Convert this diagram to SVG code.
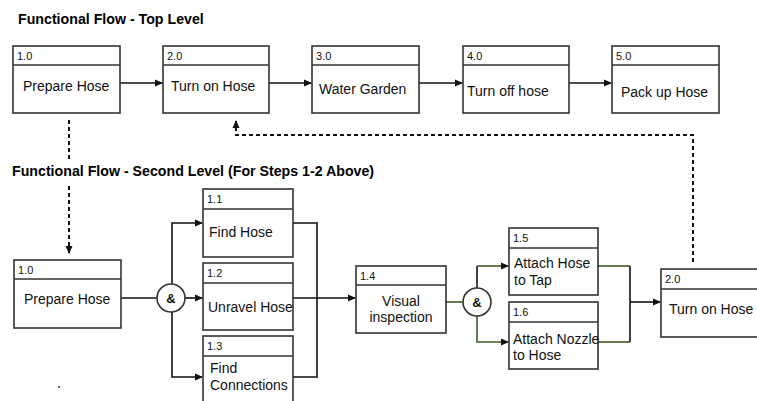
<svg xmlns="http://www.w3.org/2000/svg" width="757" height="401" viewBox="0 0 757 401">
<style>
.box{fill:#fff;stroke:#333;stroke-width:1.6}
.hd{stroke:#333;stroke-width:1.6;fill:none}
.num{font-family:"Liberation Sans",Arial,sans-serif;font-size:11px;fill:#111}
.txt{font-family:"Liberation Sans",Arial,sans-serif;font-size:14px;fill:#111}
.ttl{font-family:"Liberation Sans",Arial,sans-serif;font-size:14.2px;font-weight:bold;fill:#000}
.ln{fill:none;stroke:#111;stroke-width:1.6}
.gn{fill:none;stroke:#3d5c22;stroke-width:1.6}
.ds{fill:none;stroke:#111;stroke-width:2;stroke-dasharray:4 3}
.amp{font-family:"Liberation Sans",Arial,sans-serif;font-size:13px;font-weight:bold;fill:#111}
</style>
<defs>
<marker id="ah" markerWidth="8" markerHeight="8" refX="7" refY="4" orient="auto" markerUnits="userSpaceOnUse">
<path d="M0,0.5 L8,4 L0,7.5 Z" fill="#111"/>
</marker>
</defs>
<rect width="757" height="401" fill="#fff"/>
<text class="ttl" x="18" y="24">Functional Flow - Top Level</text>
<text class="ttl" x="12" y="176">Functional Flow - Second Level (For Steps 1-2 Above)</text>

<g id="connectors">
<path class="ln" d="M120,83 H162" marker-end="url(#ah)"/>
<path class="ln" d="M269,83 H311" marker-end="url(#ah)"/>
<path class="ln" d="M419,83 H462" marker-end="url(#ah)"/>
<path class="ln" d="M569,83 H611" marker-end="url(#ah)"/>
<path class="ds" d="M69,120 V162"/>
<path class="ds" d="M69,186 V253" marker-end="url(#ah)"/>
<path class="ds" d="M693,262 V135 H236 V121" marker-end="url(#ah)"/>
<path class="ln" d="M121,298 H157"/>
<path class="ln" d="M185,298 H202" marker-end="url(#ah)"/>
<path class="ln" d="M172,284 V223 H202" marker-end="url(#ah)"/>
<path class="ln" d="M172,312 V377 H202" marker-end="url(#ah)"/>
<path class="ln" d="M293,223 H317 V377 H293"/>
<path class="ln" d="M293,298 H355" marker-end="url(#ah)"/>
<path class="gn" d="M446,302 H463"/>
<path class="ln" d="M477,288 V266"/>
<path class="gn" d="M477,266 H508" marker-end="url(#ah)"/>
<path class="gn" d="M477,316 V342 H508" marker-end="url(#ah)"/>
<path class="gn" d="M598,266 H630"/>
<path class="gn" d="M598,342 H630"/>
<path class="ln" d="M630,266 V342"/>
<path class="ln" d="M630,302 H660" marker-end="url(#ah)"/>
</g>

<g id="t1"><rect class="box" x="13" y="46" width="107" height="67"/><path class="hd" d="M13,65 H120"/><text class="num" x="17" y="60">1.0</text><text class="txt" x="23" y="91">Prepare Hose</text></g>
<g id="t2"><rect class="box" x="163" y="46" width="106" height="67"/><path class="hd" d="M163,65 H269"/><text class="num" x="167" y="60">2.0</text><text class="txt" x="171" y="91">Turn on Hose</text></g>
<g id="t3"><rect class="box" x="312" y="46" width="107" height="67"/><path class="hd" d="M312,65 H419"/><text class="num" x="316" y="60">3.0</text><text class="txt" x="319" y="94">Water Garden</text></g>
<g id="t4"><rect class="box" x="463" y="46" width="106" height="67"/><path class="hd" d="M463,65 H569"/><text class="num" x="467" y="60">4.0</text><text class="txt" x="467" y="96">Turn off hose</text></g>
<g id="t5"><rect class="box" x="612" y="46" width="107" height="67"/><path class="hd" d="M612,65 H719"/><text class="num" x="616" y="60">5.0</text><text class="txt" x="621" y="97">Pack up Hose</text></g>

<g id="s10"><rect class="box" x="14" y="260" width="107" height="68"/><path class="hd" d="M14,279 H121"/><text class="num" x="18" y="274">1.0</text><text class="txt" x="24" y="304">Prepare Hose</text></g>
<g id="and1"><circle cx="171" cy="298" r="14" fill="#fff" stroke="#333" stroke-width="1.6"/><text class="amp" x="171" y="303" text-anchor="middle">&amp;</text></g>
<g id="s11"><rect class="box" x="203" y="189" width="90" height="68"/><path class="hd" d="M203,209 H293"/><text class="num" x="207" y="203">1.1</text><text class="txt" x="209" y="237">Find Hose</text></g>
<g id="s12"><rect class="box" x="203" y="263" width="90" height="67"/><path class="hd" d="M203,283 H293"/><text class="num" x="207" y="277">1.2</text><text class="txt" x="208" y="312">Unravel Hose</text></g>
<g id="s13"><rect class="box" x="203" y="336" width="90" height="70"/><path class="hd" d="M203,356 H293"/><text class="num" x="207" y="350">1.3</text><text class="txt" x="210" y="373">Find</text><text class="txt" x="210" y="390">Connections</text></g>
<g id="s14"><rect class="box" x="356" y="266" width="90" height="67"/><path class="hd" d="M356,285 H446"/><text class="num" x="360" y="280">1.4</text><text class="txt" x="401" y="306" text-anchor="middle">Visual</text><text class="txt" x="401" y="322" text-anchor="middle">inspection</text></g>
<g id="and2"><circle cx="477" cy="302" r="14" fill="#fff" stroke="#333" stroke-width="1.6"/><text class="amp" x="477" y="307" text-anchor="middle">&amp;</text></g>
<g id="s15"><rect class="box" x="509" y="228" width="89" height="67"/><path class="hd" d="M509,248 H598"/><text class="num" x="513" y="242">1.5</text><text class="txt" x="514" y="268">Attach Hose</text><text class="txt" x="514" y="285">to Tap</text></g>
<g id="s16"><rect class="box" x="509" y="302" width="89" height="67"/><path class="hd" d="M509,322 H598"/><text class="num" x="513" y="316">1.6</text><text class="txt" x="513" y="344">Attach Nozzle</text><text class="txt" x="513" y="360">to Hose</text></g>
<g id="s20"><rect class="box" x="661" y="269" width="100" height="68"/><path class="hd" d="M661,289 H761"/><text class="num" x="665" y="283">2.0</text><text class="txt" x="669" y="314">Turn on Hose</text></g>
<circle cx="59" cy="387" r="1" fill="#333"/>
</svg>
